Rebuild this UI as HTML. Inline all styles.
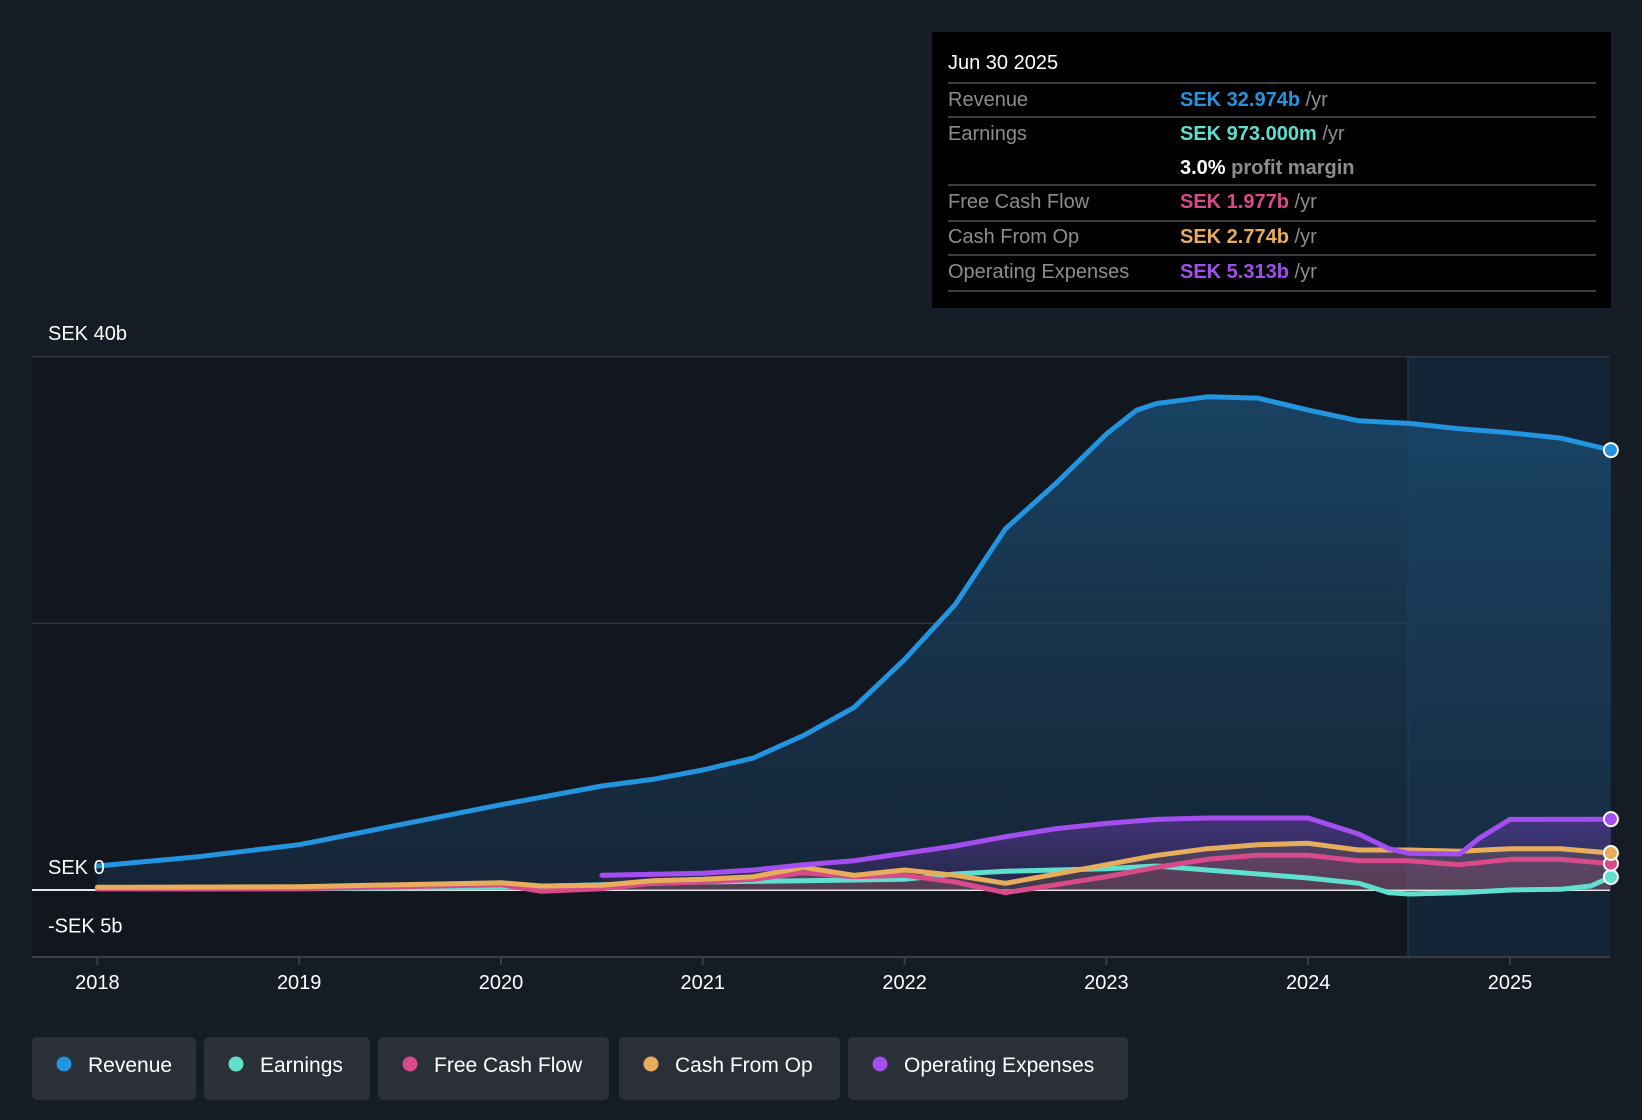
<!DOCTYPE html>
<html><head><meta charset="utf-8"><style>
body{margin:0;background:#161c25;font-family:"Liberation Sans",sans-serif;}
svg{display:block}
</style></head><body>
<svg width="1642" height="1120" xmlns="http://www.w3.org/2000/svg" id="chart">
<defs>
<linearGradient id="revG" x1="0" y1="0" x2="0" y2="1"><stop offset="0" stop-color="#1a4a6e" stop-opacity="0.85"/><stop offset="1" stop-color="#1a3550" stop-opacity="0.5"/></linearGradient>
<linearGradient id="opG" x1="0" y1="0" x2="0" y2="1"><stop offset="0" stop-color="#7a3fc0" stop-opacity="0.45"/><stop offset="1" stop-color="#7a3fc0" stop-opacity="0.1"/></linearGradient>
</defs>
<rect x="32" y="357" width="1578" height="600" fill="#12161e"/>
<rect x="1408" y="357" width="202" height="600" fill="#14283c" opacity="0.8"/>
<line x1="1408" y1="357" x2="1408" y2="957" stroke="#2a4156" stroke-width="1"/>
<g id="grid"></g>
<g id="areas"></g>
<g id="lines"></g>
<g id="dots"></g>
<g id="axes"></g>
<g>
<rect x="932" y="32" width="679" height="276" fill="#000"/>
<text x="948" y="69" fill="#fff" font-size="20">Jun 30 2025</text>
<g stroke="#3a3d42" stroke-width="2">
<line x1="948" y1="83" x2="1596" y2="83"/><line x1="948" y1="117" x2="1596" y2="117"/>
<line x1="948" y1="185" x2="1596" y2="185"/><line x1="948" y1="221" x2="1596" y2="221"/>
<line x1="948" y1="255" x2="1596" y2="255"/><line x1="948" y1="291" x2="1596" y2="291"/></g>
<g font-size="20" fill="#8a8d91">
<text x="948" y="106">Revenue</text><text x="948" y="140">Earnings</text>
<text x="948" y="208">Free Cash Flow</text><text x="948" y="243">Cash From Op</text><text x="948" y="278">Operating Expenses</text></g>
<g font-size="20" font-weight="bold">
<text x="1180" y="106" fill="#2394df">SEK 32.974b <tspan fill="#8a8d91" font-weight="normal">/yr</tspan></text>
<text x="1180" y="140" fill="#5fe0cf">SEK 973.000m <tspan fill="#8a8d91" font-weight="normal">/yr</tspan></text>
<text x="1180" y="174" fill="#fff">3.0% <tspan fill="#8a8d91">profit margin</tspan></text>
<text x="1180" y="208" fill="#d84a8a">SEK 1.977b <tspan fill="#8a8d91" font-weight="normal">/yr</tspan></text>
<text x="1180" y="243" fill="#e8ad5c">SEK 2.774b <tspan fill="#8a8d91" font-weight="normal">/yr</tspan></text>
<text x="1180" y="278" fill="#a54ef0">SEK 5.313b <tspan fill="#8a8d91" font-weight="normal">/yr</tspan></text></g>
</g>
<g id="legend"></g>
</svg>
<script>
const revYears=[2018,2018.5,2019,2019.5,2020,2020.5,2020.75,2021,2021.25,2021.5,2021.75,2022,2022.25,2022.5,2022.75,2023,2023.15,2023.25,2023.5,2023.75,2024,2024.25,2024.5,2024.75,2025,2025.25,2025.5];
const revenue=[1.8,2.5,3.4,4.9,6.4,7.8,8.3,9.0,9.9,11.6,13.7,17.3,21.4,27.1,30.5,34.2,36.0,36.5,37.0,36.9,36.0,35.2,35.0,34.6,34.3,33.9,33.0];
const opYears=[2020.5,2021,2021.25,2021.5,2021.75,2022,2022.25,2022.5,2022.75,2023,2023.25,2023.5,2023.75,2024,2024.25,2024.4,2024.5,2024.75,2024.85,2025,2025.5];
const opex=[1.1,1.25,1.5,1.9,2.2,2.75,3.3,4.0,4.6,5.0,5.3,5.4,5.4,5.4,4.2,3.1,2.75,2.7,3.9,5.3,5.313];
const cfYears=[2018,2019,2020,2020.2,2020.5,2020.75,2021,2021.25,2021.5,2021.75,2022,2022.25,2022.5,2022.75,2023,2023.25,2023.5,2023.75,2024,2024.25,2024.5,2024.75,2025,2025.25,2025.5];
const cashOp=[0.2,0.25,0.55,0.3,0.35,0.7,0.8,1.0,1.7,1.1,1.5,1.1,0.5,1.2,1.9,2.6,3.1,3.4,3.5,3.0,3.0,2.9,3.1,3.1,2.774];
const fcf=[0.1,0.1,0.4,-0.1,0.1,0.5,0.6,0.8,1.3,1.0,1.1,0.6,-0.2,0.4,1.0,1.7,2.3,2.6,2.6,2.2,2.2,1.9,2.3,2.3,1.977];
const earnYears=[2018,2019,2020,2020.5,2021,2021.5,2022,2022.25,2022.5,2022.75,2023,2023.25,2023.5,2023.75,2024,2024.25,2024.4,2024.5,2024.75,2025,2025.25,2025.4,2025.5];
const earnings=[0.1,0.1,0.2,0.4,0.6,0.7,0.8,1.2,1.4,1.5,1.6,1.8,1.5,1.2,0.9,0.5,-0.2,-0.3,-0.2,0,0.05,0.3,0.973];
const xTicks=[2018,2019,2020,2021,2022,2023,2024,2025];
const yTicks=[40,20,0,-5];
const yLabels=["SEK 40b","","SEK 0","-SEK 5b"];
const legendNames=["Revenue","Earnings","Free Cash Flow","Cash From Op","Operating Expenses"];
const legendColors=["#2394df","#5fe0cf","#d84a8a","#e8ad5c","#a54ef0"];

const NS="http://www.w3.org/2000/svg";
const X=y=>97.4+(y-2018)*201.8;
const Y=v=>890-v*13.33;
function mk(tag,attrs,parent){const e=document.createElementNS(NS,tag);for(const k in attrs)e.setAttribute(k,attrs[k]);parent.appendChild(e);return e;}
function path(xs,vs){let d="";xs.forEach((x,i)=>{d+=(i?"L":"M")+X(x).toFixed(1)+","+Y(vs[i]).toFixed(1)});return d;}
const grid=document.getElementById('grid'),areas=document.getElementById('areas'),lines=document.getElementById('lines'),dots=document.getElementById('dots'),axes=document.getElementById('axes');
yTicks.forEach((t,i)=>{
 if(t!==-5){const l=mk('line',{x1:32,x2:1610,y1:Y(t),y2:Y(t),stroke:t===0?'#e8e8e8':'#2e3540','stroke-width':t===0?2:1.5},grid);
 }
 if(yLabels[i]){const tx=mk('text',{x:48,y:(t===40?Y(t)-17:t===0?Y(t)-16:Y(t)-24),fill:'#fff','font-size':20},axes);tx.textContent=yLabels[i];
 }
});
mk('line',{x1:32,x2:1610,y1:957,y2:957,stroke:'#3a3f47','stroke-width':2},axes);
xTicks.forEach(t=>{mk('line',{x1:X(t),x2:X(t),y1:957,y2:965,stroke:'#3a3f47','stroke-width':2},axes);
 const tx=mk('text',{x:X(t),y:989,fill:'#fff','font-size':20,'text-anchor':'middle'},axes);tx.textContent=t;
 });
function area(xs,vs,fill,name){const a=mk('path',{d:path(xs,vs)+"L"+X(xs[xs.length-1])+","+Y(0)+"L"+X(xs[0])+","+Y(0)+"Z",fill:fill},areas);
 }
area(revYears,revenue,'url(#revG)','revenue-area');
area(opYears,opex,'url(#opG)','opex-area');
area(cfYears,cashOp,'rgba(232,173,92,0.15)','cashop-area');
area(cfYears,fcf,'rgba(216,74,138,0.15)','fcf-area');
const series=[[earnYears,earnings,'#5fe0cf','earnings-line'],[cfYears,fcf,'#d84a8a','fcf-line'],[cfYears,cashOp,'#e8ad5c','cashop-line'],[opYears,opex,'#a54ef0','opex-line'],[revYears,revenue,'#2394df','revenue-line']];
series.forEach(s=>{const p=mk('path',{d:path(s[0],s[1]),fill:'none',stroke:s[2],'stroke-width':5,'stroke-linejoin':'round','stroke-linecap':'round'},lines);
 
 const c=mk('circle',{cx:X(s[0][s[0].length-1]),cy:Y(s[1][s[1].length-1]),r:7,fill:s[2],stroke:'#fff','stroke-width':2},dots);
 });
const lg=document.getElementById('legend');
const lx=[32,204,378,619,848],lw=[164,166,231,221,280];
legendNames.forEach((n,i)=>{const g=mk('g',{},lg);
 
 mk('rect',{x:lx[i],y:1037,width:lw[i],height:63,rx:5,fill:'#2a2f38'},g);
 mk('circle',{cx:lx[i]+32,cy:1064,r:7.5,fill:legendColors[i]},g);
 const t=mk('text',{x:lx[i]+56,y:1072,fill:'#fff','font-size':21},g);t.textContent=n;});
</script>
</body></html>
